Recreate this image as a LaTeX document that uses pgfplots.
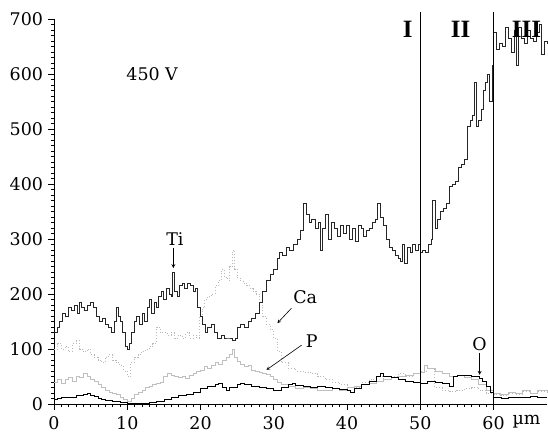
\documentclass[border=0pt]{standalone}
\usepackage{pgfplots}
\pgfplotsset{compat=1.18}
\usepackage{fontspec}
\setmainfont{DejaVu Serif}
\newfontfamily\romfont{Liberation Serif}
\begin{document}
\fontsize{17.5}{21}\selectfont
\begin{tikzpicture}
\begin{axis}[
  scale only axis, width=493bp, height=385bp,
  xmin=0, xmax=67.3, ymin=0, ymax=700,
  axis x line=bottom, axis y line=left,
  axis line style={-, line width=0.8pt},
  clip=false,
  xtick={0,10,...,60}, ytick={0,100,...,700},
  minor x tick num=9, minor y tick num=9,
  tick align=outside,
  major tick length=6bp, minor tick length=3bp,
  every tick/.style={black, line width=0.6pt},
  /pgf/number format/assume math mode=true,
  tick label style={font=\fontsize{17.5}{21}\selectfont},
  yticklabel style={xshift=1bp},
  xticklabel style={yshift=-1bp},
]
\coordinate (O) at (axis cs:0,0);
% Ca (dotted light gray)
\addplot[const plot, gray!55, dotted, line width=0.9pt] coordinates {
(0,100) (0.5,110) (1.0,100) (1.5,105) (2.0,95) (2.5,110) (3.0,115) (3.5,100) (4.0,95) (4.5,100)
(5.0,90) (5.5,85) (6.0,80) (6.5,75) (7.0,85) (7.5,90) (8.0,80) (8.5,75) (9.0,70) (9.5,60)
(10.0,50) (10.5,75) (11.0,85) (11.5,90) (12.0,95) (12.5,100) (13.0,105) (13.5,110) (14.0,140) (14.5,130)
(15.0,130) (15.5,125) (16.0,130) (16.5,120) (17.0,125) (17.5,120) (18.0,130) (18.5,120) (19.0,125) (19.5,120)
(19.8,160) (20.2,175) (20.6,190) (21.0,195) (21.5,200) (22.0,215) (22.5,225) (22.9,245) (23.3,230) (23.7,225)
(24.0,250) (24.4,280) (24.7,245) (25.0,230) (25.4,225) (25.8,220) (26.3,215) (26.8,210) (27.2,205) (27.6,200)
(28.0,180) (28.5,160) (29.0,145) (29.5,135) (30.0,120) (30.5,95) (31,75) (32,65) (33,60) (34,58)
(35,55) (36,50) (37,45) (38,40) (39,35) (40,30) (41,30) (42,40) (43,45) (44,50) (45,45) (46,50)
(47,55) (48,50) (49,55) (50,60) (51,65) (52,30) (53,25) (54,22) (55,25) (56,28) (57,30) (58,25)
(59,20) (60,18) (61,15) (62,20) (63,18) (64,22) (65,20) (66,22) (67.3,20)};
% P (light gray)
\addplot[const plot, gray!50, line width=0.8pt] coordinates {
(0,40) (0.5,45) (1.0,38) (1.5,45) (2.0,48) (2.5,42) (3.0,50) (3.5,48) (4.0,55) (4.5,50)
(5.0,45) (5.5,42) (6.0,35) (6.5,30) (7.0,25) (7.5,22) (8.0,20) (8.5,18) (9.0,12) (9.5,8)
(10.0,4) (10.5,10) (11.0,18) (11.5,22) (12.0,25) (12.5,30) (13.0,32) (13.5,35) (14.0,38) (14.5,40)
(15.0,50) (15.5,56) (16.0,52) (16.5,50) (17.0,48) (17.5,50) (18.0,47) (18.5,52) (19.0,55) (19.5,60)
(20.0,62) (20.5,68) (21.0,65) (21.5,70) (22.0,75) (22.5,72) (23.0,80) (23.5,85) (24.0,90) (24.3,100)
(24.6,85) (25.0,78) (25.5,72) (26.0,68) (26.5,70) (27.0,62) (27.5,60) (28.0,58) (28.5,55) (29.0,53)
(29.5,50) (30.0,45) (30.5,40) (31,35) (32,32) (33,28) (34,30) (35,28) (36,25) (37,25) (38,28)
(39,25) (40,30) (41,32) (42,35) (43,38) (44,42) (45,45) (46,48) (47,50) (48,52) (49,55) (50,58)
(50.5,70) (51,65) (52,60) (53,55) (54,50) (55,52) (56,48) (57,45) (58,35) (59,25) (60,20)
(61,18) (62,22) (63,20) (64,24) (65,20) (66,25) (67.3,22)};
% O (black)
\addplot[const plot, black, line width=0.7pt] coordinates {
(0,8) (0.5,10) (1,12) (2,13) (3,15) (4,17) (4.5,19) (5,16) (5.5,14) (6,10) (6.5,8) (7,6) (8,5)
(9,3) (10,2) (11,2) (12,1) (13,3) (14,4) (15,8) (16,12) (17,15) (18,18) (19,22) (20,28) (21,32)
(22,36) (22.5,38) (23,30) (23.5,25) (24,30) (25,35) (25.5,38) (26,36) (27,32) (28,30) (29,28)
(30,25) (31,30) (32,35) (32.5,38) (33,34) (34,33) (35,30) (36,33) (37,30) (38,28) (39,26) (40,24)
(40.5,22) (41,28) (42,35) (43,42) (44,50) (44.5,55) (45,50) (46,48) (47,45) (48,42) (49,40) (50,38)
(51,42) (52,40) (53,38) (54,32) (54.5,50) (55,52) (56,53) (57,50) (58,47) (58.5,42) (59,33)
(59.5,22) (60,13) (61,10) (62,12) (63,13) (64,12) (65,14) (66,13) (67.3,13)};
% Ti (black)
\addplot[const plot, black!85, line width=0.8pt] coordinates {
(0,130) (0.4,140) (0.8,150) (1.2,165) (1.6,160) (2.0,175) (2.4,170) (2.8,180) (3.2,165) (3.5,185)
(3.8,175) (4.2,170) (4.6,180) (5.0,185) (5.4,175) (5.8,160) (6.2,150) (6.6,155) (7.0,145) (7.4,140)
(7.8,130) (8.2,150) (8.5,175) (8.8,160) (9.1,150) (9.4,130) (9.7,105) (10.0,100) (10.3,110) (10.6,130)
(11.0,150) (11.3,160) (11.7,145) (12.0,165) (12.3,150) (12.7,175) (13.0,190) (13.3,165) (13.7,185) (14.0,175)
(14.3,195) (14.7,205) (15.0,190) (15.3,210) (15.7,200) (16.0,195) (16.2,240) (16.5,205) (16.8,195) (17.1,215)
(17.5,220) (17.8,210) (18.2,220) (18.6,215) (19.0,205) (19.3,210) (19.6,175) (20.0,160) (20.3,145) (20.7,130)
(21.0,140) (21.5,145) (21.9,130) (22.3,120) (22.8,125) (23.3,120) (23.8,120) (24.3,115) (24.7,120) (25.0,140)
(25.5,145) (26.0,140) (26.5,150) (27.0,155) (27.5,165) (28.0,185) (28.5,205) (29.0,225) (29.5,235) (30.0,245)
(30.5,265) (30.8,275) (31.2,270) (31.7,285) (32.2,280) (32.7,290) (33.2,300) (33.6,315) (34.0,365) (34.4,345)
(34.8,330) (35.2,335) (35.7,320) (36.1,330) (36.4,280) (36.7,320) (37.1,345) (37.5,300) (37.9,330) (38.3,320)
(38.7,305) (39.1,325) (39.5,310) (39.9,325) (40.3,300) (40.7,320) (41.1,295) (41.5,325) (41.9,320) (42.3,305)
(42.7,315) (43.1,320) (43.5,330) (43.9,335) (44.2,365) (44.6,340) (45.0,325) (45.4,300) (45.8,285) (46.2,280)
(46.6,270) (47.0,265) (47.3,260) (47.6,290) (47.9,255) (48.3,285) (48.6,275) (48.9,290) (49.3,280) (49.7,290)
(50.0,275) (50.3,280) (50.7,275) (51.1,290) (51.5,300) (51.7,370) (52.0,320) (52.4,335) (52.8,350) (53.2,355)
(53.6,365) (54.0,395) (54.4,400) (54.8,405) (55.2,430) (55.6,435) (56.0,445) (56.4,505) (56.8,515) (57.1,525)
(57.4,585) (57.7,505) (58.0,515) (58.3,535) (58.6,570) (58.9,585) (59.2,600) (59.5,550) (59.8,615) (60.0,675)
(60.4,645) (60.8,655) (61.2,650) (61.6,685) (62.0,665) (62.4,640) (62.8,680) (63.1,615) (63.4,685) (63.8,665)
(64.2,655) (64.6,680) (65.0,665) (65.4,660) (65.8,675) (66.2,690) (66.6,635) (67.0,660) (67.3,655)};
% boundary lines
\addplot[black, line width=0.8pt] coordinates {(50,0) (50,713)};
\addplot[black, line width=0.8pt] coordinates {(60,0) (60,713)};
% labels
\node[font=\fontsize{25}{27}\selectfont\romfont\bfseries] at (axis cs:48.3,682) {I};
\node[font=\fontsize{25}{27}\selectfont\romfont\bfseries] at (axis cs:55.5,682) {II};
\node[font=\fontsize{25}{27}\selectfont\romfont\bfseries] at (axis cs:64.5,682) {III};
\node at (axis cs:13.4,600) {450 V};
\node at (axis cs:16.5,300) {Ti};
\draw[-stealth, line width=0.8pt] (axis cs:16.3,284) -- (axis cs:16.3,247);
\node at (axis cs:34.3,195) {Ca};
\draw[-stealth, line width=0.6pt] (axis cs:32.4,174) -- (axis cs:30.5,147);
\node at (axis cs:35.2,115) {P};
\draw[-stealth, line width=0.6pt] (axis cs:33.8,107) -- (axis cs:29.0,62);
\node at (axis cs:58.1,109) {O};
\draw[-stealth, line width=0.8pt] (axis cs:58.1,93) -- (axis cs:58.1,53);
\node[anchor=base] at (axis cs:64.5,-38) {µm};
\end{axis}
\pgfresetboundingbox
\path (O) ++(-54bp,-31bp) rectangle ++(548bp,435bp);
\end{tikzpicture}
\end{document}
